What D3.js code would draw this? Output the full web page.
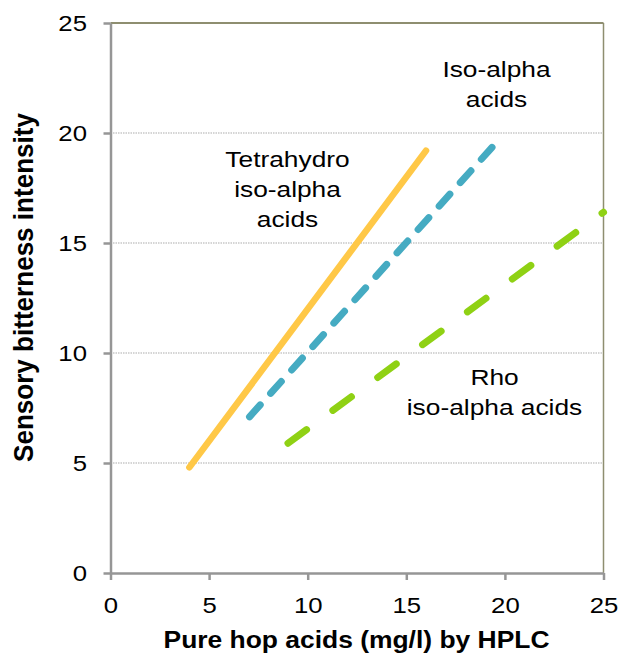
<!DOCTYPE html>
<html>
<head>
<meta charset="utf-8">
<script src="https://cdn.jsdelivr.net/npm/d3@7"></script>
<style>
  body { margin: 0; background: #fff; }
  svg { display: block; font-family: "Liberation Sans", Arial, sans-serif; }
</style>
</head>
<body>
<svg id="chart" width="619" height="657"></svg>
<script>
// values
const xTicks = [0, 5, 10, 15, 20, 25];
const yTicks = [0, 5, 10, 15, 20, 25];
const gridTicks = [5, 10, 15, 20];

const tetraX = [4, 16];
const tetraY = [4.8, 19.2];
const isoX = [7.05, 19.4];
const isoY = [7.1, 19.4];
const rhoX = [9, 25];
const rhoY = [5.9, 16.4];

const tetraLabel = ["Tetrahydro", "iso-alpha", "acids"];
const isoLabel = ["Iso-alpha", "acids"];
const rhoLabel = ["Rho", "iso-alpha acids"];

const xTitle = "Pure hop acids (mg/l) by HPLC";
const yTitle = "Sensory bitterness intensity";

const stretch = 1.17; // text in the picture is a bit wide

let svg = d3.select("#chart");

let xScale = d3.scaleLinear().domain([0, 25]).range([110.5, 603.5]);
let yScale = d3.scaleLinear().domain([0, 25]).range([573, 23]);

// dotted gridlines
svg.append("g")
  .selectAll("line")
  .data(gridTicks)
  .enter()
  .append("line")
  .attr("x1", xScale(0))
  .attr("x2", xScale(25))
  .attr("y1", d => yScale(d))
  .attr("y2", d => yScale(d))
  .attr("stroke", "#ababab")
  .attr("stroke-width", 1)
  .attr("stroke-dasharray", "1.5,1");

// top and right frame
svg.append("line")
  .attr("x1", xScale(0)).attr("x2", xScale(25))
  .attr("y1", yScale(25)).attr("y2", yScale(25))
  .attr("stroke", "#8e8e70").attr("stroke-width", 2);
svg.append("line")
  .attr("x1", xScale(25)).attr("x2", xScale(25))
  .attr("y1", yScale(25)).attr("y2", yScale(0))
  .attr("stroke", "#8e8e70").attr("stroke-width", 1.5);

// axes
let xAxis = d3.axisBottom(xScale).tickValues(xTicks).tickSize(7).tickSizeOuter(0);
let yAxis = d3.axisLeft(yScale).tickValues(yTicks).tickSize(7).tickSizeOuter(0);

let gx = svg.append("g").attr("transform", `translate(0, ${yScale(0)})`).call(xAxis);
let gy = svg.append("g").attr("transform", `translate(${xScale(0)}, 0)`).call(yAxis);

[gx, gy].forEach(g => {
  g.select(".domain").attr("stroke", "#969696").attr("stroke-width", 2.5);
  g.selectAll(".tick line").attr("stroke", "#969696").attr("stroke-width", 2.5);
  g.selectAll(".tick text")
    .attr("fill", "#000")
    .style("font-size", "22px")
    .style("font-family", "'Liberation Sans', Arial, sans-serif");
});

gx.selectAll(".tick text")
  .attr("y", 0).attr("dy", 0)
  .attr("transform", `translate(0, 40) scale(${stretch}, 1)`);

gy.selectAll(".tick text")
  .attr("x", 0).attr("dy", "0.35em")
  .attr("transform", `translate(-23.5, 0) scale(${stretch}, 1)`);

// lines
let lineGen = d3.line().x(d => xScale(d[0])).y(d => yScale(d[1]));

svg.append("path")
  .datum(d3.zip(tetraX, tetraY))
  .attr("d", lineGen)
  .attr("fill", "none")
  .attr("stroke", "#ffc847")
  .attr("stroke-width", 6.5)
  .attr("stroke-linecap", "round");

svg.append("path")
  .datum(d3.zip(isoX, isoY))
  .attr("d", lineGen)
  .attr("fill", "none")
  .attr("stroke", "#45abc2")
  .attr("stroke-width", 7)
  .attr("stroke-linecap", "round")
  .attr("stroke-dasharray", "16,15.5");

svg.append("path")
  .datum(d3.zip(rhoX, rhoY))
  .attr("d", lineGen)
  .attr("fill", "none")
  .attr("stroke", "#8fd114")
  .attr("stroke-width", 7)
  .attr("stroke-linecap", "round")
  .attr("stroke-dasharray", "23,32.6");

// in-plot labels
function addLabel(lines, cx, firstBaseline) {
  let g = svg.append("g");
  lines.forEach((t, i) => {
    g.append("text")
      .attr("transform", `translate(${cx}, ${firstBaseline + i * 30}) scale(${stretch}, 1)`)
      .attr("text-anchor", "middle")
      .style("font-size", "22.5px")
      .attr("fill", "#000")
      .text(t);
  });
}
addLabel(tetraLabel, 287.5, 166.5);
addLabel(isoLabel, 496.5, 76.5);
addLabel(rhoLabel, 494.5, 385);

// axis titles
svg.append("text")
  .attr("transform", `translate(356.5, 648) scale(${stretch}, 1)`)
  .attr("text-anchor", "middle")
  .attr("textLength", 386 / stretch)
  .attr("lengthAdjust", "spacingAndGlyphs")
  .style("font-size", "23px")
  .style("font-weight", "bold")
  .attr("fill", "#000")
  .text(xTitle);

svg.append("text")
  .attr("transform", `translate(33, 287.5) scale(${stretch}, 1) rotate(-90)`)
  .attr("text-anchor", "middle")
  .attr("textLength", 349)
  .attr("lengthAdjust", "spacingAndGlyphs")
  .style("font-size", "23.5px")
  .style("font-weight", "bold")
  .attr("fill", "#000")
  .text(yTitle);
</script>
</body>
</html>
